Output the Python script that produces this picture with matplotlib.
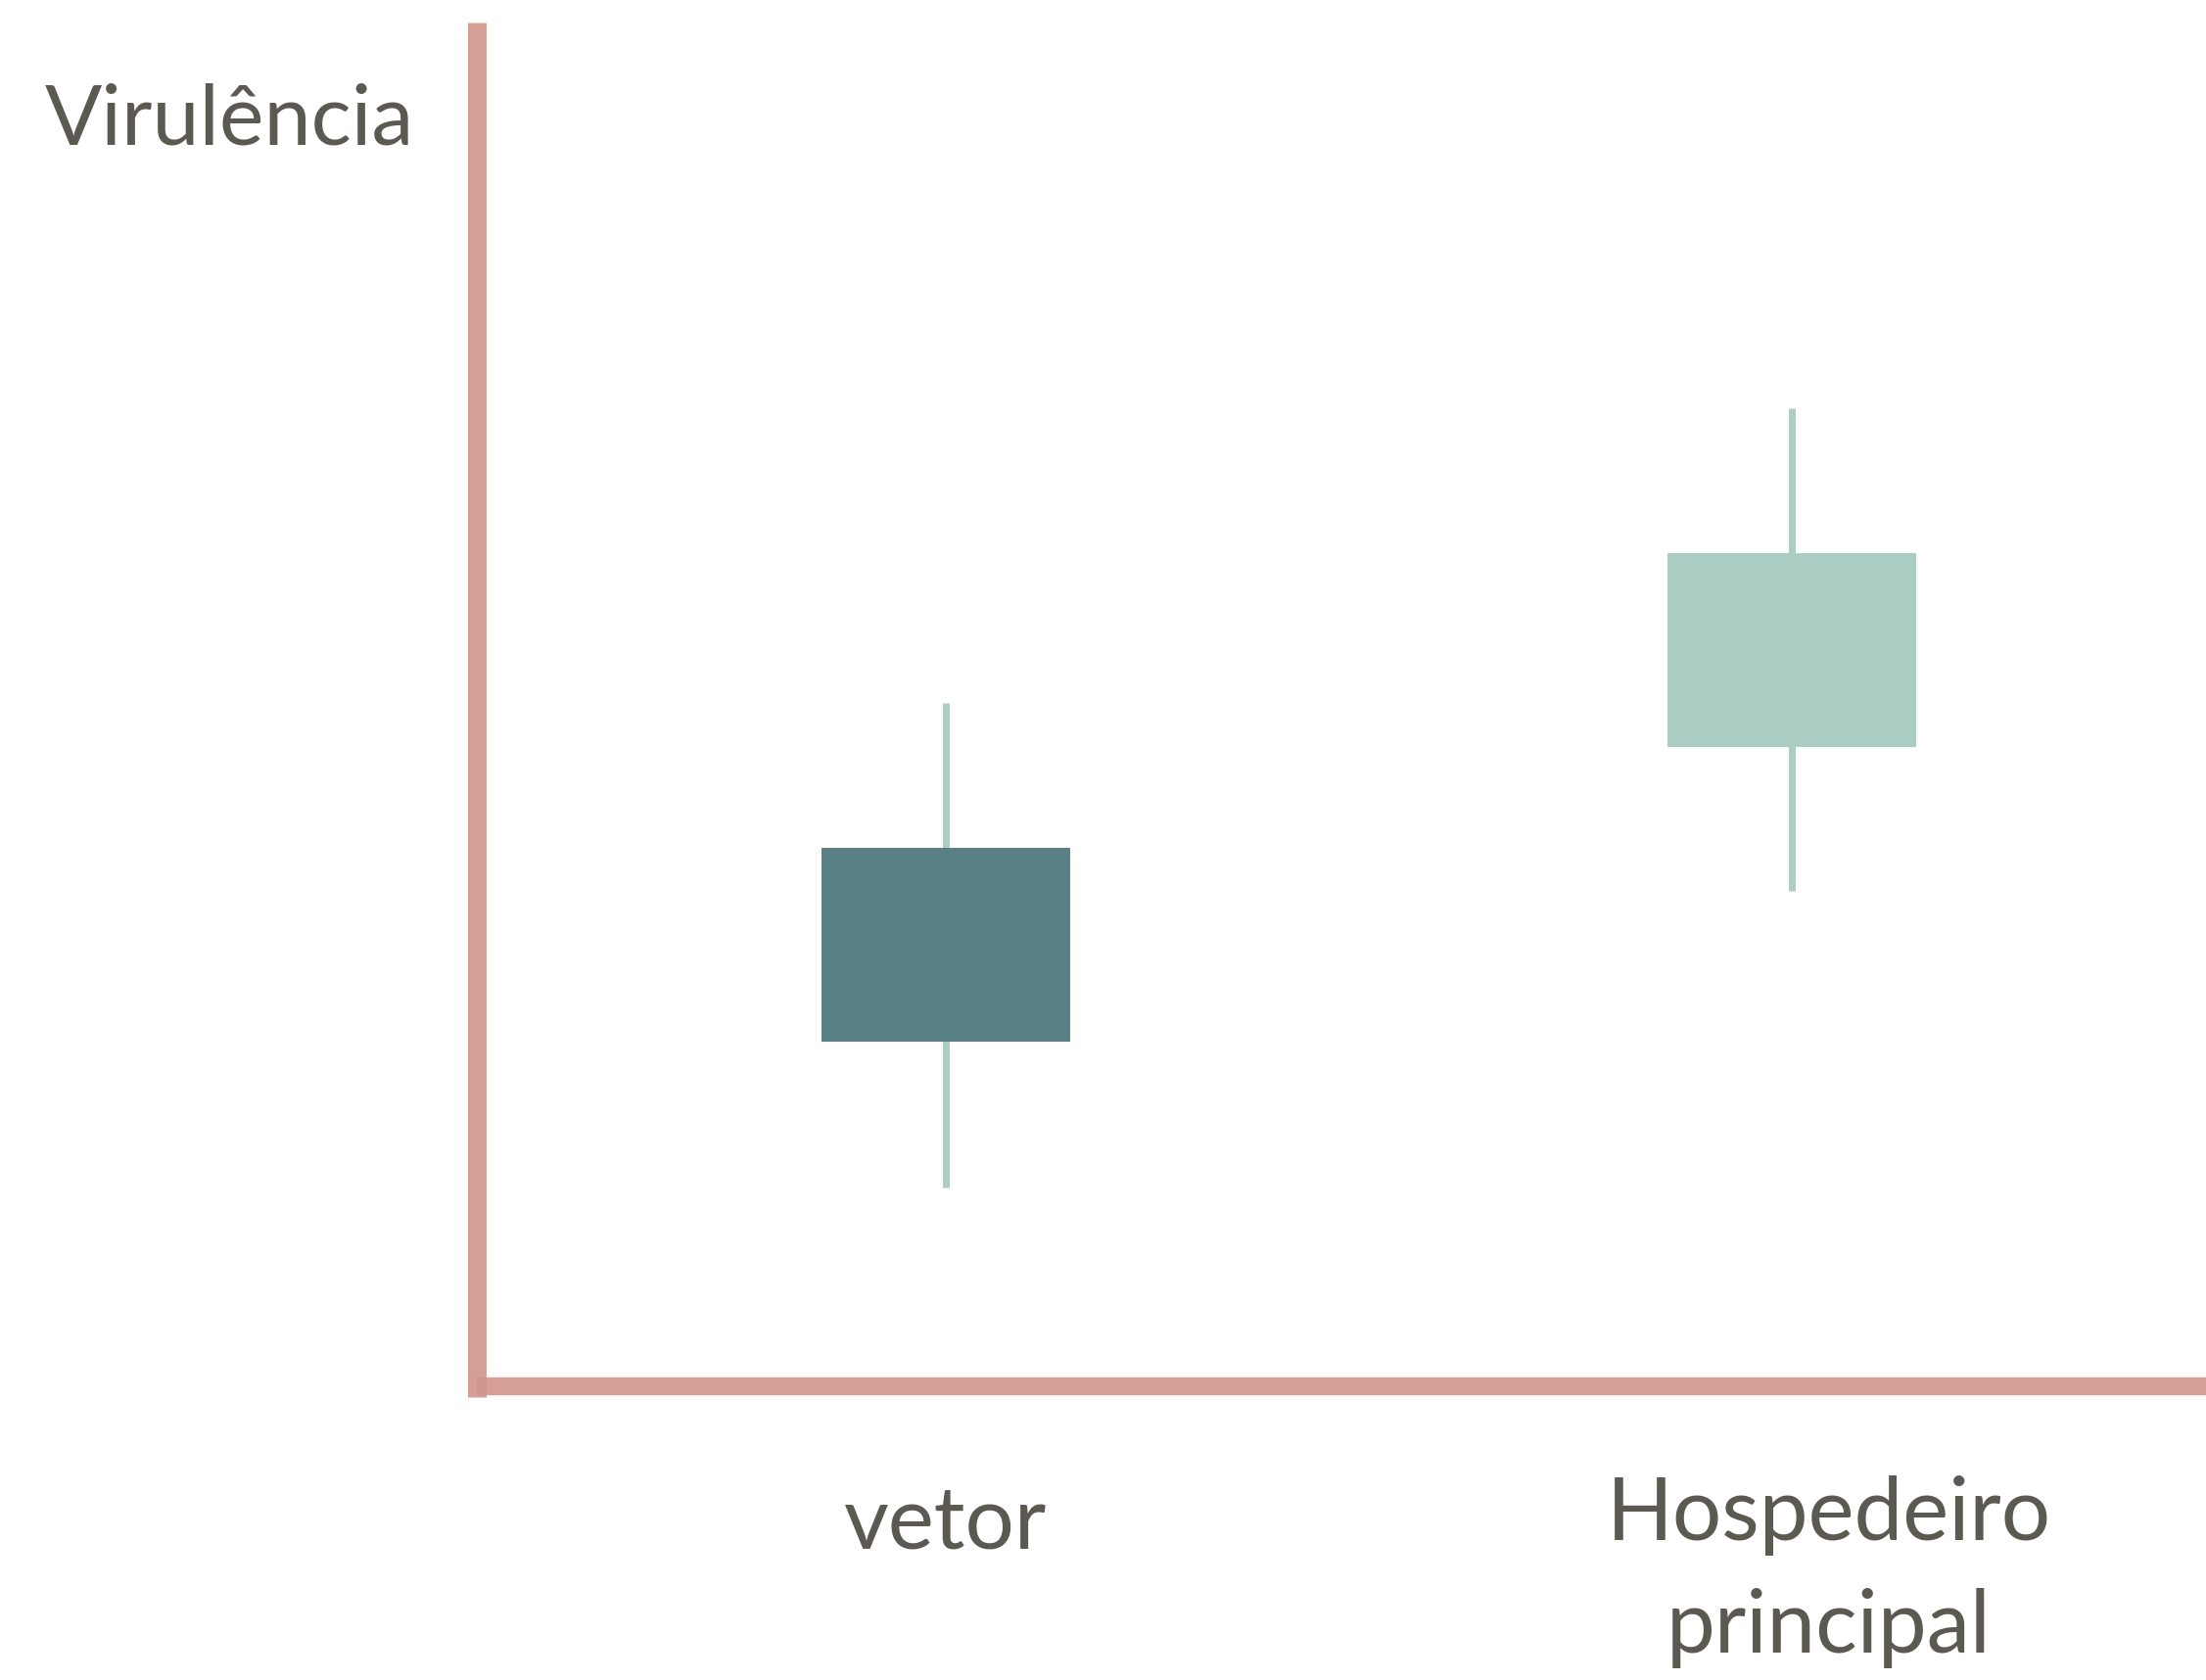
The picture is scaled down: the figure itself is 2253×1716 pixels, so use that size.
import matplotlib
matplotlib.use("Agg")
import matplotlib.pyplot as plt
import matplotlib.transforms as mtransforms
from matplotlib.patches import Rectangle

# Data (arbitrary virulence units, axis 0..100)
categories = ["vetor", "Hospedeiro\nprincipal"]
whisker_low = [14.6, 36.3]
box_low = [25.3, 46.9]
box_high = [39.5, 61.1]
whisker_high = [50.1, 71.7]
box_colors = ["#588085", "#abccc3"]
whisker_color = "#abcdc4"
axis_color = "#d1958a"
text_color = "#5c5953"
ylabel = "Virulência"

plt.rcParams['font.family'] = ['Lato', 'DejaVu Sans']

W, H = 2253, 1716
fig = plt.figure(figsize=(W / 100, H / 100), dpi=100)
ax_left, ax_right = 487 / W, 1.0
ax_bottom, ax_top = 1 - 1427 / H, 1 - 23 / H
ax = fig.add_axes([ax_left, ax_bottom, ax_right - ax_left, ax_top - ax_bottom])
ax.set_xlim(0.4456, 2.4896)
y0_px, y100_px = 1416, 23
ylo = -(1427 - y0_px) / ((y0_px - y100_px) / 100)
ax.set_ylim(ylo, 100)
for s in ax.spines.values():
    s.set_visible(False)
ax.set_xticks([])
ax.set_yticks([])

positions = [1, 2]
box_width = 0.295
for i, x in enumerate(positions):
    ax.plot([x, x], [whisker_low[i], whisker_high[i]], color=whisker_color,
            lw=5, solid_capstyle='butt', zorder=2)
    ax.add_patch(Rectangle((x - box_width / 2, box_low[i]), box_width,
                           box_high[i] - box_low[i], facecolor=box_colors[i],
                           edgecolor='none', zorder=3))

# axes lines
ax.axvline(0.4456, color=axis_color, lw=13.7, solid_capstyle='butt', clip_on=False, zorder=5, alpha=0.9)
ax.axhline(0, xmin=0.0, xmax=1.0, color=axis_color, lw=13.2, solid_capstyle='butt', clip_on=False, zorder=5, alpha=0.9)

# labels
trans = mtransforms.blended_transform_factory(ax.transData, fig.transFigure)
label_offsets = [0.0, 0.044]
label_base = [1 - 1581 / H, 1 - 1688 / H]
for i, x in enumerate(positions):
    ax.text(x + label_offsets[i], label_base[i], categories[i], transform=trans,
            ha='center', va='baseline', fontsize=64, color=text_color,
            linespacing=1.5, multialignment='center')

fig.text(46 / W, 1 - 148 / H, ylabel, ha='left', va='baseline', fontsize=62,
         color=text_color)

fig.savefig("out.png", dpi=100, facecolor='white')
